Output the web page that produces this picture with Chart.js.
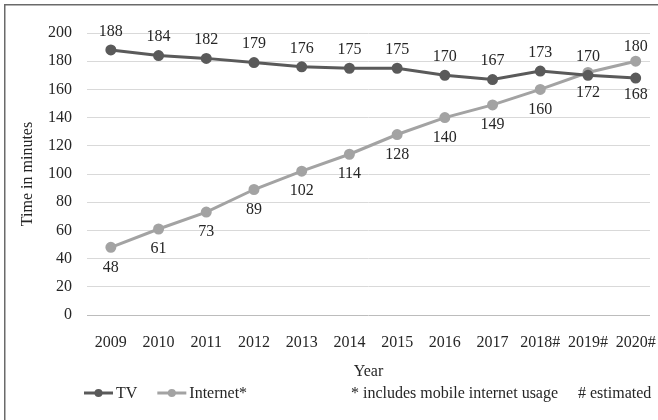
<!DOCTYPE html>
<html>
<head>
<meta charset="utf-8">
<script src="https://cdn.jsdelivr.net/npm/chart.js@4/dist/chart.umd.min.js"></script>
<style>
  html, body { margin: 0; padding: 0; background: #fff; }
</style>
</head>
<body>
<canvas id="lineChart" width="658" height="420"></canvas>
<script>
const years = ["2009", "2010", "2011", "2012", "2013", "2014", "2015", "2016", "2017", "2018#", "2019#", "2020#"];
const tvMinutes = [188, 184, 182, 179, 176, 175, 175, 170, 167, 173, 170, 168];
const internetMinutes = [48, 61, 73, 89, 102, 114, 128, 140, 149, 160, 172, 180];
const seriesNames = ["TV", "Internet*"];
const noteParts = ["* includes mobile internet usage", "# estimated"];

const tvColor = "#5a5a5a";
const internetColor = "#a3a3a3";
const textColor = "#262626";
const serif = "'Liberation Serif', 'Times New Roman', serif";

Chart.defaults.font.family = serif;
Chart.defaults.font.size = 16;
Chart.defaults.color = textColor;

// value printed next to each point: TV above, Internet below (swapped for the last year,
// where the lines have crossed and the labels sit a little closer)
const pointValueLabels = {
  id: "pointValueLabels",
  afterDatasetsDraw(chart) {
    const ctx = chart.ctx;
    ctx.save();
    ctx.font = "16px " + serif;
    ctx.fillStyle = textColor;
    ctx.textAlign = "center";
    ctx.textBaseline = "middle";
    chart.data.datasets.forEach((ds, d) => {
      const meta = chart.getDatasetMeta(d);
      meta.data.forEach((pt, i) => {
        const last = i === meta.data.length - 1;
        const up = (d === 0) !== last;
        let dy = up ? -18.5 : 20;
        if (last) dy = up ? -14 : 17;
        ctx.fillText(String(ds.data[i].y), pt.x, pt.y + dy);
      });
    });
    ctx.restore();
  },
};

// frame, line+marker legend and footnote under the axis
const frameAndLegend = {
  id: "frameAndLegend",
  afterDraw(chart) {
    const ctx = chart.ctx;
    ctx.save();
    ctx.strokeStyle = "#6a6a6a";
    ctx.lineWidth = 1.5;
    ctx.beginPath();
    ctx.moveTo(4.75, 420);
    ctx.lineTo(4.75, 4.75);
    ctx.lineTo(658, 4.75);
    ctx.stroke();

    const y = 393;
    let x = 84;
    ctx.font = "16px " + serif;
    ctx.textBaseline = "middle";
    ctx.textAlign = "left";
    chart.data.datasets.forEach((ds) => {
      ctx.strokeStyle = ds.borderColor;
      ctx.lineWidth = 3;
      ctx.beginPath();
      ctx.moveTo(x, y);
      ctx.lineTo(x + 29, y);
      ctx.stroke();
      ctx.fillStyle = ds.borderColor;
      ctx.beginPath();
      ctx.arc(x + 14.5, y, 4, 0, Math.PI * 2);
      ctx.fill();
      ctx.fillStyle = textColor;
      ctx.fillText(ds.label, x + 32, y + 1);
      x += 32 + ctx.measureText(ds.label).width + 20;
    });
    ctx.fillText(noteParts[0], 351, y + 1);
    ctx.fillText(noteParts[1], 578, y + 1);
    ctx.restore();
  },
};

const toPoints = (values) => values.map((v, i) => ({ x: i, y: v }));

const lineChart = document.querySelector("#lineChart");
const graph = new Chart(lineChart, {
  type: "line",
  data: {
    datasets: [
      {
        label: seriesNames[0],
        data: toPoints(tvMinutes),
        borderColor: tvColor,
        backgroundColor: tvColor,
        pointBackgroundColor: tvColor,
        pointBorderColor: tvColor,
        borderWidth: 3,
        pointRadius: 4,
      },
      {
        label: seriesNames[1],
        data: toPoints(internetMinutes),
        borderColor: internetColor,
        backgroundColor: internetColor,
        pointBackgroundColor: internetColor,
        pointBorderColor: internetColor,
        borderWidth: 3,
        pointRadius: 4,
      },
    ],
  },
  options: {
    responsive: false,
    animation: false,
    devicePixelRatio: 1,
    layout: { padding: { top: 33, right: 8, bottom: 35, left: 0 } },
    plugins: {
      legend: { display: false },
      tooltip: { enabled: false },
    },
    scales: {
      x: {
        type: "linear",
        min: -0.5,
        max: 11.3,
        afterBuildTicks: (s) => {
          s.ticks = years.map((_, i) => ({ value: i }));
        },
        afterFit: (s) => {
          s.height = 70;
          s.paddingLeft = 0;
          s.paddingRight = 0;
        },
        ticks: {
          callback: (v) => years[v],
          autoSkip: false,
          maxRotation: 0,
          padding: 10,
        },
        grid: { display: false },
        border: { display: false },
        title: {
          display: true,
          text: "Year",
          padding: { top: 0, bottom: 4 },
        },
      },
      y: {
        min: 0,
        max: 200,
        afterFit: (s) => {
          s.width = 87;
        },
        ticks: { stepSize: 20, padding: 15 },
        grid: {
          drawTicks: false,
          color: (c) => (c.tick && c.tick.value === 0 ? "#bcbcbc" : "#d9d9d9"),
        },
        border: { display: false },
        title: {
          display: true,
          text: "Time in minutes",
          padding: { top: 18, bottom: 0 },
        },
      },
    },
  },
  plugins: [pointValueLabels, frameAndLegend],
});
</script>
</body>
</html>
